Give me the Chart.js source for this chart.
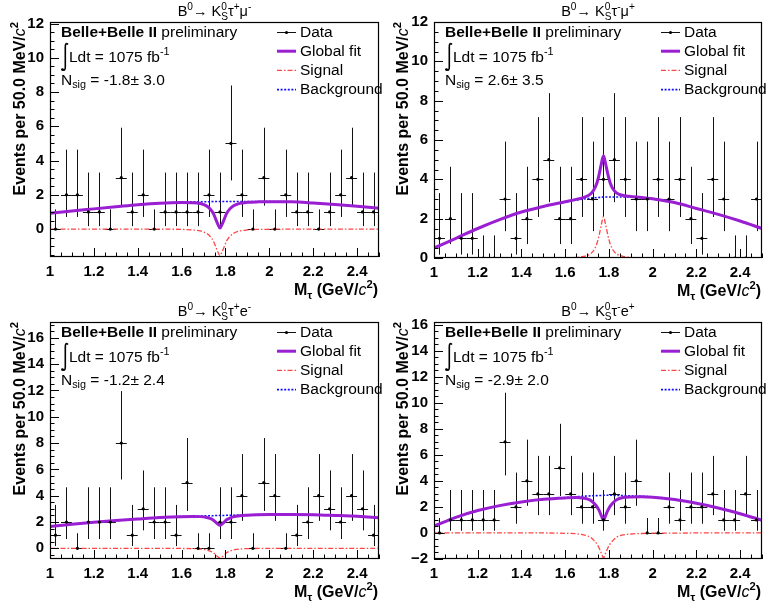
<!DOCTYPE html>
<html>
<head>
<meta charset="utf-8">
<script src="https://cdn.jsdelivr.net/npm/chart.js@4.4.0/dist/chart.umd.min.js"></script>
<style>
  html, body { margin: 0; padding: 0; background: #fff; }
  #wrap { position: relative; width: 766px; height: 603px; overflow: hidden; }
  .pane { position: absolute; }
  canvas { display: block; }
</style>
</head>
<body>
<div id="wrap">
  <div class="pane" style="left:0;top:0"><canvas id="c1" width="383" height="300"></canvas></div>
  <div class="pane" style="left:383px;top:0"><canvas id="c2" width="383" height="300"></canvas></div>
  <div class="pane" style="left:0;top:300px"><canvas id="c3" width="383" height="303"></canvas></div>
  <div class="pane" style="left:383px;top:300px"><canvas id="c4" width="383" height="303"></canvas></div>
</div>
<script>
// ---- data ----

// bin centres (50 MeV bins, 1.0 - 2.5 GeV)
const binX = [1.025, 1.075, 1.125, 1.175, 1.225, 1.275, 1.325, 1.375, 1.425, 1.475,
              1.525, 1.575, 1.625, 1.675, 1.725, 1.775, 1.825, 1.875, 1.925, 1.975,
              2.025, 2.075, 2.125, 2.175, 2.225, 2.275, 2.325, 2.375, 2.425, 2.475];

// events per bin
const countsTauPlusMu  = [0, 2, 2, 1, 1, 0, 3, 1, 2, 0, 1, 1, 1, 1, 2, 1, 5, 2, 0, 3, 0, 2, 1, 1, 0, 1, 2, 3, 1, 1];
const countsTauMinusMu = [1, 2, 1, 1, 0, 0, 3, 1, 2, 4, 5, 2, 2, 4, 3, 4, 5, 4, 3, 3, 4, 3, 4, 2, 1, 4, 3, 0, 0, 3];
const countsTauPlusE   = [1, 2, 0, 2, 2, 2, 8, 1, 3, 2, 2, 1, 5, 0, 0, 2, 2, 4, 0, 5, 4, 0, 1, 2, 4, 3, 2, 4, 3, 1];
const countsTauMinusE  = [0, 1, 1, 1, 1, 1, 7, 2, 4, 3, 3, 5, 3, 2, 2, 1, 3, 2, 4, 0, 0, 2, 1, 2, 2, 3, 1, 1, 3, 1];

// Poisson 68% interval edges indexed by count
const poissonLow  = [0, 0.173, 0.708, 1.367, 2.086, 2.840, 3.620, 4.419, 5.232];
const poissonHigh = [1.148, 3.300, 4.638, 5.918, 7.163, 8.382, 9.584, 10.77, 11.95];

// x positions where the fit curves were read
const curveX = [1.0, 1.1, 1.2, 1.3, 1.4, 1.5, 1.6, 1.65, 1.685, 1.715, 1.73, 1.745, 1.755, 1.765, 1.775,
                1.785, 1.795, 1.805, 1.82, 1.835, 1.865, 1.9, 1.95, 2.0, 2.1, 2.2, 2.3, 2.4, 2.5];

const bkgTauPlusMu = [0.93, 1.06, 1.18, 1.3, 1.42, 1.51, 1.57, 1.59, 1.6, 1.6, 1.6, 1.61, 1.61, 1.61, 1.61,
                      1.61, 1.61, 1.61, 1.61, 1.61, 1.61, 1.61, 1.61, 1.61, 1.59, 1.52, 1.43, 1.33, 1.22];
const sigTauPlusMu = [0, 0, 0, 0, 0, 0, -0.02, -0.05, -0.11, -0.26, -0.43, -0.7, -1.01, -1.32, -1.55,
                      -1.32, -1.01, -0.7, -0.43, -0.26, -0.11, -0.05, -0.02, -0.01, 0, 0, 0, 0, 0];
const fitTauPlusMu = [0.93, 1.06, 1.18, 1.3, 1.42, 1.51, 1.55, 1.54, 1.49, 1.34, 1.17, 0.91, 0.6, 0.29, 0.06,
                      0.29, 0.6, 0.91, 1.18, 1.35, 1.5, 1.56, 1.59, 1.6, 1.59, 1.52, 1.43, 1.33, 1.22];

const bkgTauMinusMu = [0.51, 1.0, 1.5, 1.95, 2.34, 2.62, 2.85, 2.95, 3.0, 3.04, 3.06, 3.07, 3.08, 3.09, 3.1,
                       3.1, 3.1, 3.1, 3.1, 3.1, 3.1, 3.1, 3.07, 3.0, 2.82, 2.52, 2.22, 1.88, 1.5];
const sigTauMinusMu = [0, 0, 0, 0, 0, 0, 0.01, 0.03, 0.08, 0.21, 0.38, 0.74, 1.16, 1.68, 2.1,
                       1.68, 1.16, 0.74, 0.38, 0.21, 0.08, 0.03, 0.01, 0.01, 0, 0, 0, 0, 0];
const fitTauMinusMu = [0.51, 1.0, 1.5, 1.95, 2.34, 2.62, 2.86, 2.98, 3.08, 3.25, 3.44, 3.81, 4.24, 4.77, 5.2,
                       4.78, 4.26, 3.84, 3.48, 3.31, 3.18, 3.13, 3.08, 3.01, 2.82, 2.52, 2.22, 1.88, 1.5];

const bkgTauPlusE = [1.65, 1.83, 1.98, 2.11, 2.23, 2.34, 2.42, 2.44, 2.46, 2.47, 2.48, 2.48, 2.49, 2.49, 2.5,
                     2.5, 2.5, 2.51, 2.51, 2.52, 2.53, 2.54, 2.56, 2.57, 2.58, 2.56, 2.5, 2.43, 2.33];
const sigTauPlusE = [0, 0, 0, 0, 0, 0, -0.01, -0.02, -0.05, -0.13, -0.21, -0.34, -0.49, -0.64, -0.75,
                     -0.64, -0.49, -0.34, -0.21, -0.13, -0.05, -0.02, -0.01, 0, 0, 0, 0, 0, 0];
const fitTauPlusE = [1.65, 1.83, 1.98, 2.11, 2.23, 2.34, 2.41, 2.42, 2.41, 2.34, 2.27, 2.14, 2.0, 1.85, 1.75,
                     1.86, 2.01, 2.17, 2.3, 2.39, 2.48, 2.52, 2.55, 2.57, 2.58, 2.56, 2.5, 2.43, 2.33];

const bkgTauMinusE = [0.52, 1.2, 1.72, 2.1, 2.38, 2.58, 2.72, 2.78, 2.82, 2.85, 2.86, 2.87, 2.88, 2.88, 2.89,
                      2.89, 2.89, 2.89, 2.89, 2.88, 2.87, 2.85, 2.82, 2.77, 2.58, 2.28, 1.92, 1.48, 0.98];
const sigTauMinusE = [0, 0, 0, 0, 0, 0, -0.03, -0.06, -0.15, -0.33, -0.55, -0.85, -1.15, -1.55, -1.9,
                      -1.55, -1.15, -0.85, -0.55, -0.33, -0.15, -0.08, -0.04, -0.02, -0.01, 0, 0, 0, 0];
const fitTauMinusE = [0.52, 1.2, 1.72, 2.1, 2.38, 2.58, 2.69, 2.72, 2.67, 2.52, 2.31, 2.02, 1.73, 1.33, 0.99,
                      1.34, 1.74, 2.04, 2.34, 2.55, 2.72, 2.77, 2.78, 2.75, 2.57, 2.28, 1.92, 1.48, 0.98];

// axis tick labels
const xTickValues = [1, 1.2, 1.4, 1.6, 1.8, 2, 2.2, 2.4];
const yTicksTop = [0, 2, 4, 6, 8, 10, 12];
const yTicksTauPlusE = [0, 2, 4, 6, 8, 10, 12, 14, 16];
const yTicksTauMinusE = [-2, 0, 2, 4, 6, 8, 10, 12, 14, 16];

const nsigTexts = ['-1.8\u00b1 3.0', '2.6\u00b1 3.5', '-1.2\u00b1 2.4', '-2.9\u00b1 2.0'];
const legendLabels = ['Data', 'Global fit', 'Signal', 'Background'];

// ---- drawing helpers ----
const FONT = "'Liberation Sans', Arial, Helvetica, sans-serif";
const COL_FIT = '#9a1fd3';
const COL_SIG = '#ff4545';
const COL_BKG = '#1010ff';
const TXT = 15.5;   // size of the labels inside the frame

function font(size, bold, italic) {
  return (italic ? 'italic ' : '') + (bold ? 'bold ' : '') + size + 'px ' + FONT;
}

function partWidth(ctx, p, size, bold) {
  const s = size * 0.7;
  const b = p.bold !== undefined ? p.bold : bold;
  if (p.k === 'u' || p.k === 'd') { ctx.font = font(s, b, p.i); return ctx.measureText(p.t).width; }
  if (p.k === 'ud') { ctx.font = font(s, b, p.i); return Math.max(ctx.measureText(p.t).width, ctx.measureText(p.b2).width); }
  ctx.font = font(size, b, p.i);
  return ctx.measureText(p.t).width;
}

function richWidth(ctx, parts, size, bold) {
  return parts.reduce((w, p) => w + partWidth(ctx, p, size, bold), 0);
}

function drawRich(ctx, parts, x, y, size, bold) {
  ctx.textAlign = 'left';
  ctx.textBaseline = 'alphabetic';
  const s = size * 0.7;
  parts.forEach(p => {
    const w = partWidth(ctx, p, size, bold);
    const b = p.bold !== undefined ? p.bold : bold;
    if (p.k === 'u') {
      ctx.font = font(s, b, p.i); ctx.fillText(p.t, x, y - size * 0.42);
    } else if (p.k === 'd') {
      ctx.font = font(s, b, p.i); ctx.fillText(p.t, x, y + size * 0.24);
    } else if (p.k === 'ud') {
      ctx.font = font(s, b, p.i);
      ctx.fillText(p.t, x, y - size * 0.42);
      ctx.fillText(p.b2, x, y + size * 0.26);
    } else {
      ctx.font = font(size, b, p.i); ctx.fillText(p.t, x, y);
    }
    x += w;
  });
}

function decayTitle(tauSign, lepton, lepSign) {
  return [{t: 'B'}, {t: '0', k: 'u'}, {t: '\u2192 K'}, {t: '0', k: 'ud', b2: 'S'},
          {t: '\u03c4'}, {t: tauSign, k: 'u'}, {t: lepton}, {t: lepSign, k: 'u'}];
}

const yTitleParts = [{t: 'Events per 50.0 MeV/'}, {t: 'c', i: true, bold: false}, {t: '2', k: 'u'}];
const xTitleParts = [{t: 'M'}, {t: '\u03c4', k: 'd'}, {t: ' (GeV/'}, {t: 'c', i: true, bold: false}, {t: '2', k: 'u'}, {t: ')'}];

// error bars for the data points
const errorBarPlugin = {
  id: 'errorBars',
  beforeDatasetsDraw(chart) {
    const cfg = chart.options.plugins.panel;
    const xs = chart.scales.x, ys = chart.scales.y;
    const a = chart.chartArea;
    const ctx = chart.ctx;
    ctx.save();
    ctx.beginPath();
    ctx.rect(a.left, a.top, a.right - a.left, a.bottom - a.top);
    ctx.clip();
    ctx.strokeStyle = '#111';
    ctx.lineWidth = 1;
    ctx.beginPath();
    cfg.counts.forEach((n, i) => {
      const px = Math.round(xs.getPixelForValue(binX[i])) + 0.5;
      const py = Math.round(ys.getPixelForValue(n)) + 0.5;
      ctx.moveTo(px, ys.getPixelForValue(poissonLow[n]));
      ctx.lineTo(px, ys.getPixelForValue(poissonHigh[n]));
      ctx.moveTo(xs.getPixelForValue(binX[i] - 0.025), py);
      ctx.lineTo(xs.getPixelForValue(binX[i] + 0.025), py);
    });
    ctx.stroke();
    ctx.restore();
  }
};

// frame, inward ticks, axis titles, labels and legend
const decorPlugin = {
  id: 'decor',
  afterDraw(chart) {
    const cfg = chart.options.plugins.panel;
    const ctx = chart.ctx;
    const xs = chart.scales.x, ys = chart.scales.y;
    const {left, right, top, bottom} = chart.chartArea;
    ctx.save();

    // inward ticks
    ctx.strokeStyle = '#000';
    ctx.lineWidth = 1;
    ctx.beginPath();
    for (let i = 0; i <= 30; i++) {
      const px = Math.round(xs.getPixelForValue(1 + i * 0.05)) + 0.5;
      const len = i % 4 === 0 ? 9 : 4.5;
      ctx.moveTo(px, bottom);
      ctx.lineTo(px, bottom - len);
    }
    for (let k = Math.ceil(cfg.yMin * 2); k <= Math.floor(cfg.yMax * 2); k++) {
      const py = Math.round(ys.getPixelForValue(k / 2)) + 0.5;
      const len = k % 4 === 0 ? 9 : 4.5;
      ctx.moveTo(left, py);
      ctx.lineTo(left + len, py);
    }
    ctx.stroke();

    // frame
    ctx.lineWidth = 1.2;
    ctx.strokeRect(left + 0.5, top + 0.5, right - left - 1, bottom - top - 1);

    ctx.fillStyle = '#000';
    // title
    const tw = richWidth(ctx, cfg.title, 14.5, false);
    drawRich(ctx, cfg.title, (left + right) / 2 - tw / 2, top - 6, 14.5, false);

    // x title, right aligned
    const xw = richWidth(ctx, xTitleParts, 16, true);
    drawRich(ctx, xTitleParts, right - xw - 1, bottom + 38, 16, true);

    // y title, rotated, aligned to top of axis
    const yw = richWidth(ctx, yTitleParts, 16, true);
    ctx.save();
    ctx.translate(25, top);
    ctx.rotate(-Math.PI / 2);
    drawRich(ctx, yTitleParts, -yw, 0, 16, true);
    ctx.restore();

    // experiment label
    drawRich(ctx, [{t: 'Belle+Belle II', bold: true}, {t: ' preliminary'}], left + 11, top + 15, TXT, false);
    // integral sign
    ctx.lineWidth = 1.6;
    ctx.beginPath();
    ctx.moveTo(left + 18, top + 22.5);
    ctx.quadraticCurveTo(left + 15.3, top + 20, left + 15.3, top + 25);
    ctx.lineTo(left + 15.3, top + 45);
    ctx.quadraticCurveTo(left + 15.3, top + 49.5, left + 12.5, top + 47.5);
    ctx.stroke();
    ctx.beginPath();
    ctx.arc(left + 12.4, top + 47.6, 1.4, 0, Math.PI * 2);
    ctx.fill();
    drawRich(ctx, [{t: 'Ldt = 1075 fb'}, {t: '-1', k: 'u'}], left + 19, top + 40, TXT, false);
    drawRich(ctx, [{t: 'N'}, {t: 'sig', k: 'd'}, {t: ' = ' + cfg.nsig}], left + 11, top + 62.5, TXT, false);

    // legend
    const x0 = left + 227, x1 = left + 246;
    legendLabels.forEach((lab, i) => {
      const y = top + 10 + i * 19.2;
      ctx.save();
      ctx.beginPath();
      if (i === 0) {
        ctx.strokeStyle = '#111'; ctx.lineWidth = 1;
        ctx.moveTo(x0, Math.round(y) + 0.5); ctx.lineTo(x1, Math.round(y) + 0.5); ctx.stroke();
        ctx.beginPath(); ctx.arc((x0 + x1) / 2, Math.round(y) + 0.5, 1.6, 0, Math.PI * 2); ctx.fill();
      } else if (i === 1) {
        ctx.strokeStyle = COL_FIT; ctx.lineWidth = 3;
        ctx.moveTo(x0, y); ctx.lineTo(x1, y); ctx.stroke();
      } else if (i === 2) {
        ctx.strokeStyle = COL_SIG; ctx.lineWidth = 1.3; ctx.setLineDash([5, 2, 1.5, 2]);
        ctx.moveTo(x0, y); ctx.lineTo(x1, y); ctx.stroke();
      } else {
        ctx.strokeStyle = COL_BKG; ctx.lineWidth = 1.6; ctx.setLineDash([2, 1.6]);
        ctx.moveTo(x0, y); ctx.lineTo(x1, y); ctx.stroke();
      }
      ctx.restore();
      ctx.font = font(TXT, false, false);
      ctx.textAlign = 'left';
      ctx.textBaseline = 'middle';
      ctx.fillText(lab, left + 250, y + 0.5);
    });
    ctx.restore();
  }
};

function tickLabel(v) {
  return (v < 0 ? '\u2212' : '') + String(Math.abs(v));
}

function makePanel(cfg) {
  const curve = (vals) => curveX.map((x, i) => ({x, y: vals[i]}));
  return new Chart(document.getElementById(cfg.id), {
    type: 'line',
    data: {
      datasets: [
        {
          type: 'scatter',
          data: binX.map((x, i) => ({x, y: cfg.counts[i]})),
          pointRadius: 1.6,
          pointBackgroundColor: '#000',
          pointBorderWidth: 0,
          showLine: false,
          order: 0
        },
        {
          data: curve(cfg.fit),
          borderColor: COL_FIT,
          borderWidth: 3,
          pointRadius: 0,
          cubicInterpolationMode: 'monotone',
          order: 1
        },
        {
          data: curve(cfg.bkg),
          borderColor: COL_BKG,
          borderWidth: 1.6,
          borderDash: [2, 1.6],
          pointRadius: 0,
          cubicInterpolationMode: 'monotone',
          order: 2
        },
        {
          data: curve(cfg.sig),
          borderColor: COL_SIG,
          borderWidth: 1.3,
          borderDash: [5, 2, 1.5, 2],
          pointRadius: 0,
          cubicInterpolationMode: 'monotone',
          order: 3
        }
      ]
    },
    options: {
      responsive: false,
      animation: false,
      events: [],
      devicePixelRatio: 1,
      layout: { padding: { left: 0, top: cfg.top, right: cfg.right, bottom: 0 } },
      plugins: {
        legend: { display: false },
        tooltip: { enabled: false },
        panel: cfg
      },
      scales: {
        x: {
          type: 'linear',
          min: 1,
          max: 2.5,
          grid: { display: false, drawTicks: false },
          border: { display: false },
          afterBuildTicks: (scale) => { scale.ticks = xTickValues.map(v => ({value: v})); },
          afterFit: (scale) => { scale.height = cfg.xAxisH; },
          ticks: {
            padding: 6,
            maxRotation: 0,
            autoSkip: false,
            color: '#000',
            font: { family: FONT, size: 15, weight: 'bold' },
            callback: tickLabel
          }
        },
        y: {
          type: 'linear',
          min: cfg.yMin,
          max: cfg.yMax,
          grid: { display: false, drawTicks: false },
          border: { display: false },
          afterBuildTicks: (scale) => { scale.ticks = cfg.yTicks.map(v => ({value: v})); },
          afterFit: (scale) => { scale.width = cfg.yAxisW; },
          ticks: {
            padding: 6,
            autoSkip: false,
            color: '#000',
            font: { family: FONT, size: 15, weight: 'bold' },
            callback: tickLabel
          }
        }
      }
    },
    plugins: [errorBarPlugin, decorPlugin]
  });
}

makePanel({ id: 'c1', counts: countsTauPlusMu, fit: fitTauPlusMu, bkg: bkgTauPlusMu, sig: sigTauPlusMu,
  yMin: -1.63, yMax: 12.09, yTicks: yTicksTop, nsig: nsigTexts[0], title: decayTitle('+', '\u03bc', '-'),
  top: 22, right: 1, yAxisW: 50, xAxisH: 43 });
makePanel({ id: 'c2', counts: countsTauMinusMu, fit: fitTauMinusMu, bkg: bkgTauMinusMu, sig: sigTauMinusMu,
  yMin: 0, yMax: 12, yTicks: yTicksTop, nsig: nsigTexts[1], title: decayTitle('-', '\u03bc', '+'),
  top: 22, right: 0, yAxisW: 51, xAxisH: 42 });
makePanel({ id: 'c3', counts: countsTauPlusE, fit: fitTauPlusE, bkg: bkgTauPlusE, sig: sigTauPlusE,
  yMin: -0.81, yMax: 17.2, yTicks: yTicksTauPlusE, nsig: nsigTexts[2], title: decayTitle('+', 'e', '-'),
  top: 22, right: 1, yAxisW: 50, xAxisH: 44 });
makePanel({ id: 'c4', counts: countsTauMinusE, fit: fitTauMinusE, bkg: bkgTauMinusE, sig: sigTauMinusE,
  yMin: -2, yMax: 16.2, yTicks: yTicksTauMinusE, nsig: nsigTexts[3], title: decayTitle('-', 'e', '+'),
  top: 22, right: 0, yAxisW: 51, xAxisH: 44 });
</script>
</body>
</html>
